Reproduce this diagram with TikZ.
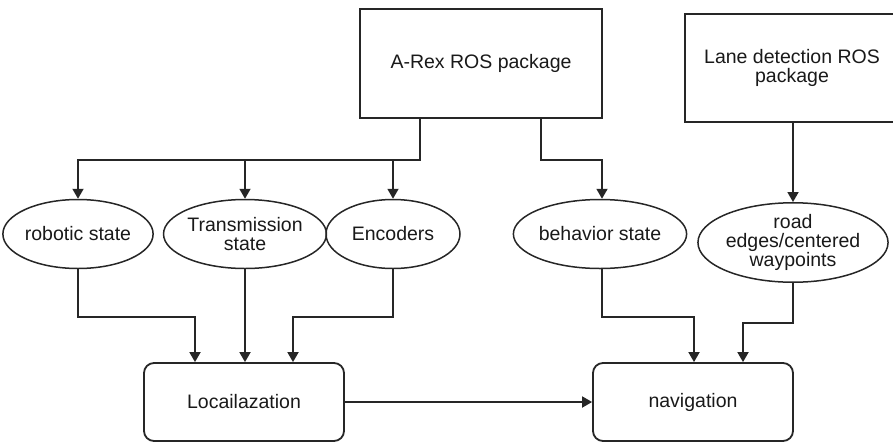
\documentclass[tikz,border=0pt]{standalone}
\usepackage{fontspec}
\setmainfont{Liberation Sans}
\usetikzlibrary{shapes.geometric,arrows.meta}

\begin{document}
\begin{tikzpicture}[x=1pt,y=-1pt,
  every node/.style={font=\fontsize{19.5}{19}\selectfont, text=black!90, align=center, inner sep=0pt},
  pkg/.style={draw=black!85, line width=1.8pt, rectangle, minimum width=242pt, minimum height=109pt},
  topic/.style={draw=black!85, line width=1.5pt, ellipse, minimum height=69pt},
  proc/.style={draw=black!85, line width=1.8pt, rectangle, rounded corners=10pt, minimum width=200pt, minimum height=78pt},
  arr/.style={draw=black!85, line width=1.8pt, -{Triangle[width=11pt,length=10pt]}}
]
\useasboundingbox (0,0) rectangle (893,442);
\clip (0,0) rectangle (893,442);

% source packages
\node[pkg] (arex) at (481,63.5) {A-Rex ROS package};
\node[pkg, minimum width=214pt, minimum height=108pt] (lane) at (792,68) {Lane detection ROS\\package};

% topics
\node[topic, minimum width=131pt] (rob) at (78,234) {robotic state};
\node[topic, minimum width=135pt] (trans) at (245,234) {Transmission\\state};
\node[topic, minimum width=134pt] (enc) at (393,234) {Encoders};
\node[topic, minimum width=128pt] (beh) at (600,234) {behavior state};
\node[topic, minimum width=169pt, minimum height=79pt] (road) at (793,242.5) {road\\edges/centered\\waypoints};

% processing blocks
\node[proc] (loc) at (244,402) {Locailazation};
\node[proc] (nav) at (693,402) {navigation};

% A-Rex outputs
\draw[arr] ([xshift=-61pt]arex.south) -- ++(0,41) -| (rob);
\draw[arr] ([xshift=-61pt]arex.south) -- ++(0,41) -| (trans);
\draw[arr] ([xshift=-61pt]arex.south) -- ++(0,41) -| (enc);
\draw[arr] ([xshift=60pt]arex.south) -- ++(0,41) -| ([xshift=2pt]beh.north);

% lane detection output
\draw[arr] ([xshift=1pt]lane.south) -- (road.north);

% into localization
\draw[arr] (rob.south) -- ++(0,48) -| ([xshift=-49pt]loc.north);
\draw[arr] (trans.south) -- (trans.south |- loc.north);
\draw[arr] (enc.south) -- ++(0,48) -| ([xshift=49pt]loc.north);

% into navigation
\draw[arr] ([xshift=2pt]beh.south) -- ++(0,48) -| ([xshift=1pt]nav.north);
\draw[arr] (road.south) -- ++(0,40) -| ([xshift=50pt]nav.north);

% localization to navigation
\draw[arr] (loc.east) -- (nav.west);
\end{tikzpicture}
\end{document}
